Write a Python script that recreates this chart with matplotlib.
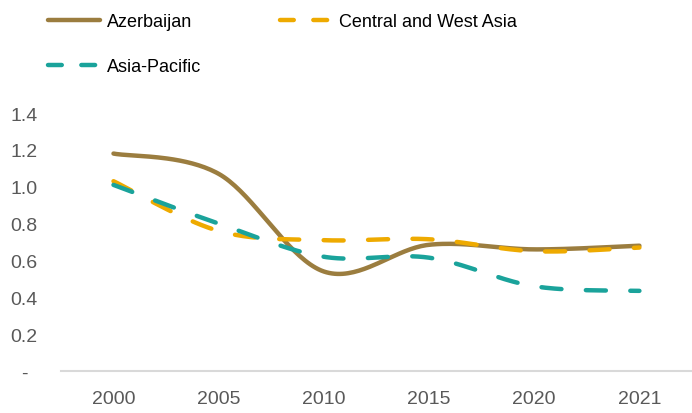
import numpy as np
import matplotlib.pyplot as plt
from matplotlib.lines import Line2D

years = ['2000', '2005', '2010', '2015', '2020', '2021']
azerbaijan = [1.18, 1.07, 0.54, 0.685, 0.66, 0.68]
central_west_asia = [1.03, 0.76, 0.71, 0.715, 0.65, 0.67]
asia_pacific = [1.01, 0.80, 0.62, 0.615, 0.46, 0.435]

plt.rcParams['font.family'] = ['Liberation Sans', 'DejaVu Sans']


def smooth(y, n=40):
    # Excel-like smoothed line: Catmull-Rom bezier between category points
    y = np.asarray(y, dtype=float)
    x = np.arange(len(y), dtype=float)
    pts = np.column_stack([x, y])
    out = []
    for i in range(len(pts) - 1):
        p0 = pts[max(i - 1, 0)]
        p1 = pts[i]
        p2 = pts[i + 1]
        p3 = pts[min(i + 2, len(pts) - 1)]
        c1 = p1 + (p2 - p0) / 6
        c2 = p2 - (p3 - p1) / 6
        t = np.linspace(0, 1, n)[:, None]
        seg = ((1 - t) ** 3) * p1 + 3 * ((1 - t) ** 2) * t * c1 + 3 * (1 - t) * t ** 2 * c2 + t ** 3 * p2
        out.append(seg if i == 0 else seg[1:])
    out = np.vstack(out)
    return out[:, 0], out[:, 1]


fig = plt.figure(figsize=(6.92, 4.14), dpi=100)
ax = fig.add_axes([0.088, 0.1014, 0.912, 0.6232])

series = [
    ('Azerbaijan', azerbaijan, '#9B7D3F', '-'),
    ('Central and West Asia', central_west_asia, '#EEAA00', (0, (4.5, 5.5))),
    ('Asia-Pacific', asia_pacific, '#1AA39B', (0, (4.5, 5.5))),
]

handles = {}
for name, vals, color, ls in series:
    xs, ys = smooth(vals)
    ax.plot(xs, ys, color=color, lw=3.2, linestyle=ls,
            solid_capstyle='round', dash_capstyle='round')
    handles[name] = Line2D([], [], color=color, lw=3.2,
                           linestyle=ls if ls == '-' else (0, (3.1, 4.4)),
                           solid_capstyle='round', dash_capstyle='round', label=name)

ax.set_xlim(-0.5, len(years) - 0.5)
ax.set_ylim(0, 1.4)
ax.set_xticks(range(len(years)))
ax.set_xticklabels(years)
yt = np.arange(0, 1.41, 0.2)
ax.set_yticks(yt)
ax.set_yticklabels(['-'] + ['%.1f' % v for v in yt[1:]])
ax.tick_params(length=0, labelsize=14, colors='#595959')
ax.tick_params(axis='x', pad=14)
ax.tick_params(axis='y', pad=26.5)
for lab in ax.get_yticklabels():
    lab.set_horizontalalignment('center')
for s in ['top', 'right', 'left']:
    ax.spines[s].set_visible(False)
ax.spines['bottom'].set_color('#D9D9D9')
ax.spines['bottom'].set_linewidth(1.5)

order = ['Azerbaijan', 'Asia-Pacific', 'Central and West Asia']
fig.legend(handles=[handles[k] for k in order], loc='upper left',
           bbox_to_anchor=(39 / 692, 1 - 5 / 414), ncol=2, borderpad=0,
           frameon=False, fontsize=13, handlelength=2.9, handletextpad=0.35,
           columnspacing=4.4, labelspacing=1.55)

fig.savefig('out.png', dpi=100)
